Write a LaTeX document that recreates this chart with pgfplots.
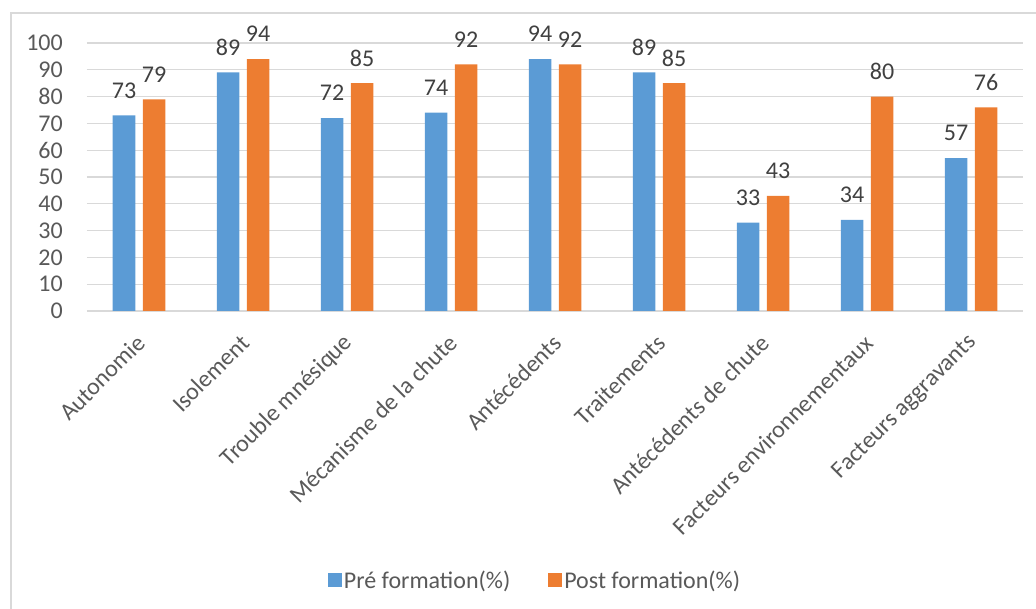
\documentclass[border=0pt]{standalone}
\usepackage{pgfplots}
\pgfplotsset{compat=1.18}
\usepackage{fontspec}
\setmainfont{Carlito}
\definecolor{cblue}{HTML}{5B9BD5}
\definecolor{corange}{HTML}{ED7D31}
\definecolor{gridc}{HTML}{D9D9D9}
\definecolor{txt}{HTML}{595959}
\definecolor{lbl}{HTML}{404040}
\newcommand\bigf{\fontsize{24}{29}\selectfont}
\begin{document}
\begin{tikzpicture}
\useasboundingbox (0,0) rectangle (1036pt,609pt);
\draw[gridc, line width=1.5pt] (11pt,-10pt) -- (11pt,596pt) -- (1046pt,596pt);
\begin{axis}[
 at={(87pt,298pt)}, anchor=south west,
 scale only axis, width=936pt, height=268pt,
 ybar=7.5pt, bar width=22.5pt,
 xmin=-0.5, xmax=8.5, ymin=0, ymax=100,
 xtick=data,
 xticklabels={Autonomie, Isolement, Trouble mnésique, Mécanisme de la chute, Antécédents, Traitements, Antécédents de chute, Facteurs environnementaux, Facteurs aggravants},
 ytick={0,10,...,100},
 axis line style={draw=none},
 major tick length=0pt,
 ymajorgrids, grid style={gridc, line width=1.3pt},
 tick label style={font=\bigf, text=txt},
 /pgf/number format/assume math mode=true,
 yticklabel style={anchor=east, inner sep=0pt, xshift=-24pt},
 xticklabel style={xshift=2pt, yshift=-28pt, rotate=45, anchor=east, inner sep=0pt},
 nodes near coords,
 every node near coord/.append style={font=\bigf, text=lbl, anchor=center, yshift=25pt},
 legend style={at={(0.4786,-1.0037)}, anchor=center, draw=none, legend columns=2, font=\bigf, text=txt, /tikz/every even column/.append style={column sep=36pt}},
 legend image code/.code={\fill[#1] (0pt,-7pt) rectangle (14pt,7pt);},
]
\addplot[fill=cblue, draw=none] coordinates {(0,73) (1,89) (2,72) (3,74) (4,94) (5,89) (6,33) (7,34) (8,57)};
\addplot[fill=corange, draw=none] coordinates {(0,79) (1,94) (2,85) (3,92) (4,92) (5,85) (6,43) (7,80) (8,76)};
\legend{Pré formation(\%), Post formation(\%)}
\end{axis}
\end{tikzpicture}
\end{document}
